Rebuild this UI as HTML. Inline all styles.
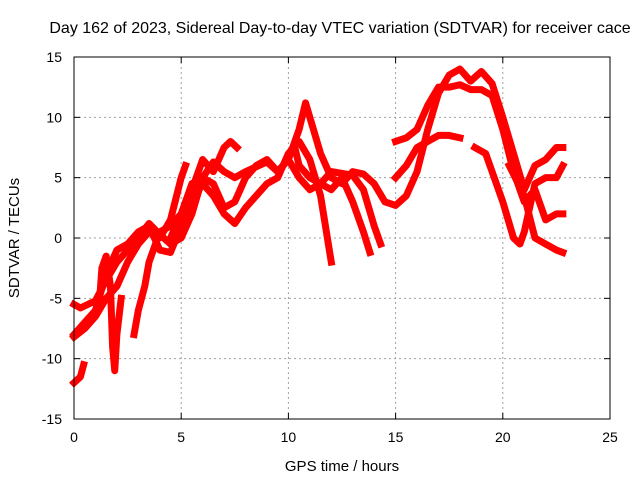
<!DOCTYPE html>
<html><head><meta charset="utf-8"><style>
body{margin:0;background:#fff;}
svg{display:block;font-family:"Liberation Sans",sans-serif;}
</style></head><body>
<svg id="c" width="640" height="480">
<text x="340" y="33" font-size="16" text-anchor="middle">Day 162 of 2023, Sidereal Day-to-day VTEC variation (SDTVAR) for receiver cace</text>
<text x="342" y="471" font-size="15" text-anchor="middle">GPS time / hours</text>
<text transform="translate(19,238) rotate(-90)" font-size="15" text-anchor="middle">SDTVAR / TECUs</text>
<g id="grid"></g><g id="series"></g><g id="axes"></g>
</svg>
<script>
const xTicks=[0,5,10,15,20,25];
const yTicks=[-15,-10,-5,0,5,10,15];
const s1=[[0,-5.5],[0.3,-5.8],[1,-5.2],[1.5,-3.5],[2,-2],[2.5,-1],[3,0],[3.5,1.2],[4,0.3],[4.5,-0.5],[5,0],[5.5,2],[6,5],[6.5,6.3],[7,5.5],[7.5,5],[8,5.5],[9,6.3],[9.5,5.5],[10,6.5],[10.5,9],[10.8,11.2],[11,10],[11.5,7],[12,5],[12.5,4.5],[13,5.5],[13.5,5.3],[14,4.5],[14.5,3],[15,2.7],[15.5,3.5],[16,5.5],[16.5,9],[17,12],[17.5,13.5],[18,14],[18.5,13],[19,13.8],[19.5,12.8],[20,10],[20.5,7],[21,4],[21.5,6],[22,6.5],[22.5,7.5],[22.8,7.5]];
const s2=[[0,-8],[0.5,-7],[1,-6],[1.5,-3],[2,-1],[2.5,-0.5],[3,0.5],[3.5,1],[4,-1],[4.5,-1.2],[5,1],[5.5,3],[6,4.5],[6.5,3.5],[7,2],[7.5,1.2],[8,2.5],[9,4.5],[9.5,5],[10,7],[10.5,8],[11,6.5],[11.5,3.5],[12,-2]];
const s3=[[0,-8.2],[0.5,-7.5],[1,-6.5],[1.5,-5],[2,-4],[2.5,-2],[3,-0.5],[3.5,0.5],[4,0],[4.5,1.5],[5,5],[5.2,6]];
const s3b=[[4.5,0],[5,2],[5.5,4],[6,6.5],[6.5,5.5],[7,7.5],[7.3,8],[7.6,7.5]];
const s4=[[2.8,-8],[3,-6],[3.3,-4],[3.5,-2],[4,0.5],[4.5,1],[5,2],[5.5,4.5],[6,5],[6.5,4.5],[7,2.5],[7.5,3],[8,5],[8.5,6],[9,6.5],[9.5,5.5],[10,6.5],[10.5,5],[11,4],[11.5,4.5],[12,5.5],[13,5.2],[13.5,4],[14,1],[14.3,-0.5]];
const s5=[[10.3,7.5],[10.5,6],[11,5],[11.5,4.5],[12,4],[12.5,5],[13,3],[13.5,0.5],[13.8,-1.2]];
const s6=[[15,8],[15.5,8.3],[16,9],[16.5,11],[17,12.5],[17.5,12.5],[18,12.7],[18.5,12.3],[19,12.3],[19.5,11.8],[20,9],[20.5,5.5],[21,3],[21.5,4],[22,1.5],[22.5,2],[22.8,2]];
const s7=[[15,5],[15.5,6],[16,7.5],[16.5,8],[17,8.5],[17.5,8.5],[18,8.3]];
const s8=[[18.7,7.5],[19.2,7],[19.5,5.5],[20,3],[20.5,0],[20.8,-0.5],[21,0.5],[21.5,4.5],[22,5],[22.5,5],[22.8,6]];
const s9=[[20.3,6],[21,3.5],[21.5,0],[22,-0.5],[22.5,-1],[22.8,-1.2]];
const s10=[[0,-12],[0.3,-11.5],[0.45,-10.5]];
const s11=[[1.2,-5],[1.3,-2.5],[1.5,-1.5],[1.7,-4],[1.8,-9],[1.9,-11],[2,-8],[2.2,-5]];
const allSeries=[s1,s2,s3,s3b,s4,s5,s6,s7,s8,s9,s10,s11];
const X=h=>74+h*(536/25), Y=v=>238-v*(362/30);
const NS="http://www.w3.org/2000/svg";
const grid=document.getElementById('grid'),axes=document.getElementById('axes'),ser=document.getElementById('series');
function mk(tag,attrs,parent){const e=document.createElementNS(NS,tag);for(const k in attrs)e.setAttribute(k,attrs[k]);parent.appendChild(e);return e;}
xTicks.forEach(t=>{
 if(t>0&&t<25){const g=mk('line',{x1:X(t),x2:X(t),y1:57,y2:419,stroke:'#a0a0a0','stroke-dasharray':'2,3'},grid);
 
 }
 mk('line',{x1:X(t),x2:X(t),y1:419,y2:413,stroke:'#000'},axes);
 mk('line',{x1:X(t),x2:X(t),y1:57,y2:63,stroke:'#000'},axes);
 const tx=mk('text',{x:X(t),y:442,'font-size':14,'text-anchor':'middle'},axes);tx.textContent=t;
 
 
});
yTicks.forEach(t=>{
 if(t>-15&&t<15){const g=mk('line',{x1:74,x2:610,y1:Y(t),y2:Y(t),stroke:'#a0a0a0','stroke-dasharray':'2,3'},grid);
 
 }
 mk('line',{x1:74,x2:80,y1:Y(t),y2:Y(t),stroke:'#000'},axes);
 mk('line',{x1:604,x2:610,y1:Y(t),y2:Y(t),stroke:'#000'},axes);
 const tx=mk('text',{x:62,y:Y(t)+5,'font-size':14,'text-anchor':'end'},axes);tx.textContent=t;
 
 
});
const fr=mk('rect',{x:74,y:57,width:536,height:362,fill:'none',stroke:'#000'},axes);


allSeries.forEach((s,i)=>{
 const p=mk('polyline',{points:s.map(d=>X(d[0])+','+Y(d[1])).join(' '),fill:'none',stroke:'#ff0000','stroke-width':7,'stroke-linejoin':'round','stroke-linecap':'square'},ser);
 
 
});
</script>
</body></html>
